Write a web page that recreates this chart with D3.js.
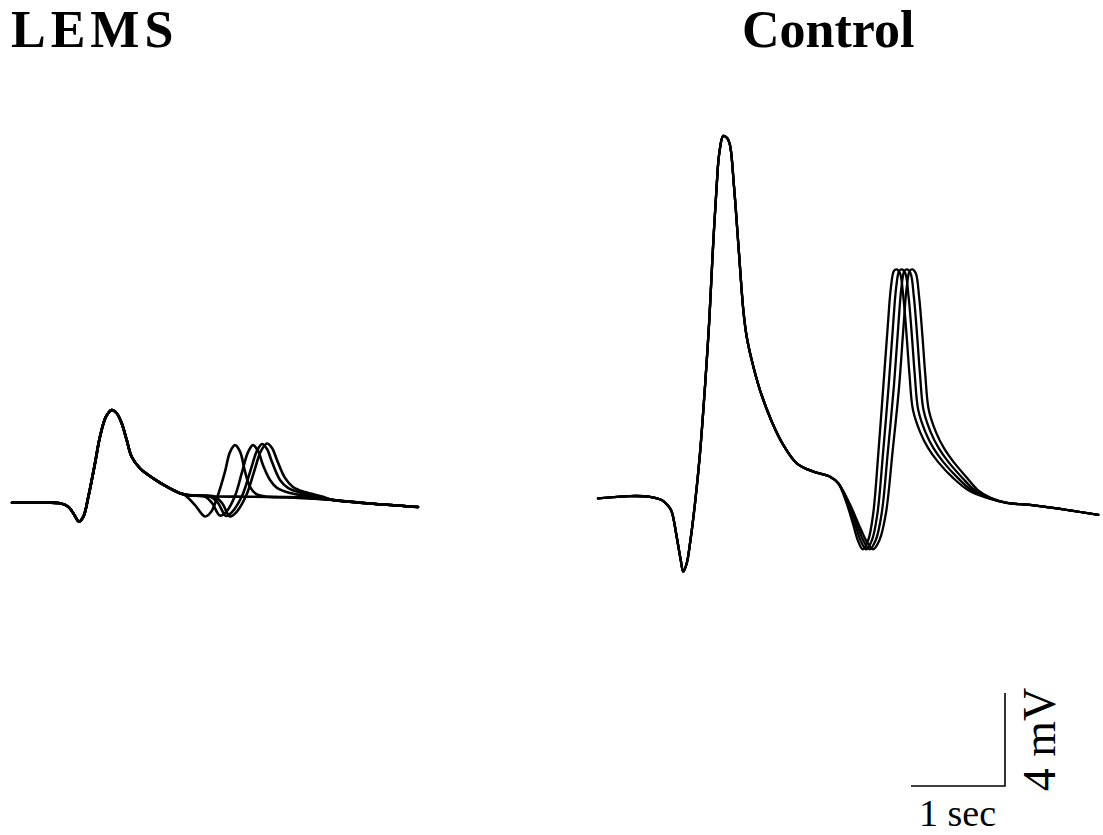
<!DOCTYPE html>
<html>
<head>
<meta charset="utf-8">
<script src="https://cdn.jsdelivr.net/npm/d3@7"></script>
<style>
  html, body { margin: 0; padding: 0; background: #fff; }
  svg { display: block; }
</style>
</head>
<body>
<svg id="chart" width="1103" height="835"></svg>
<script>
// ---- DATA (time in ms, potential in mV) ----
const panelTitles = ["LEMS", "Control"];
const scaleBarTime = 1000;   // ms  -> "1 sec"
const scaleBarVolt = 4;      // mV  -> "4 mV"
const scaleLabels = ["1 sec", "4 mV"];

// LEMS: shared first response
const lemsCommon = [[0,0.01],[298,0.01],[511,-0.01],[599,-0.16],[652,-0.44],[713,-0.80],[759,-0.59],
  [812,0.27],[883,1.71],[936,2.85],[1000,3.71],[1061,4.0],[1114,3.86],[1167,3.43],[1220,2.71],
  [1273,1.99],[1362,1.49],[1503,1.06],[1646,0.70],[1787,0.42]];
const lemsTail = [[3415,0.13],[3773,-0.01],[4319,-0.17]];
const lemsFlat = [[2000,0.30],[2532,0.27],[3064,0.24]];
const lemsSweep1 = [[1840,0.34],[1947,-0.09],[2053,-0.58],[2117,-0.39],[2191,0.34],[2266,1.35],
  [2319,2.19],[2372,2.49],[2426,2.21],[2479,1.35],[2532,0.69],[2596,0.39],[2691,0.28],[2957,0.24]];
const lemsSweep2 = [[1894,0.32],[2053,0.28],[2128,0.0],[2213,-0.54],[2277,-0.39],[2372,0.30],
  [2447,1.33],[2511,2.19],[2564,2.49],[2617,2.24],[2670,1.63],[2745,0.99],[2819,0.65],[2957,0.43],[3170,0.28]];
const lemsSweep3 = [[1894,0.32],[2106,0.28],[2191,0.0],[2277,-0.56],[2340,-0.39],[2447,0.30],
  [2532,1.33],[2606,2.24],[2660,2.54],[2713,2.32],[2766,1.76],[2851,0.99],[2936,0.65],[3064,0.45],[3255,0.28]];
const lemsSweep4 = [[1894,0.32],[2149,0.28],[2234,0.0],[2319,-0.58],[2383,-0.41],[2489,0.30],
  [2574,1.33],[2649,2.24],[2713,2.56],[2766,2.37],[2819,1.85],[2904,1.08],[2989,0.69],[3117,0.47],[3298,0.28]];

// Control: shared first response
const controlCommon = [[0,-0.06],[340,0.04],[553,0.01],[678,-0.13],[748,-0.39],[784,-0.63],[837,-1.71],
  [880,-2.71],[907,-3.21],[944,-2.85],[979,-1.99],[1032,-0.27],[1085,1.88],[1138,4.74],[1184,7.61],
  [1220,10.48],[1262,13.35],[1290,14.78],[1333,15.53],[1376,15.43],[1404,15.14],[1447,13.35],
  [1500,10.48],[1546,8.04],[1582,6.89],[1635,5.89],[1723,4.60],[1848,3.25],[1971,2.24],[2114,1.45],
  [2290,1.09],[2468,0.87],[2556,0.59]];
const controlTail = [[4348,-0.25],[4596,-0.34],[4880,-0.49],[5322,-0.77]];
const controlSweep1 = [[2645,-0.27],[2716,-1.20],[2769,-1.92],[2816,-2.25],[2875,-1.85],[2928,-0.70],
  [2982,1.88],[3035,4.74],[3082,7.32],[3117,9.05],[3149,9.73],[3178,9.79],[3213,9.62],[3248,8.62],
  [3284,6.89],[3314,5.25],[3351,3.74],[3426,2.80],[3511,2.11],[3617,1.51],[3777,0.82],[3936,0.30],[4138,-0.04]];
const controlSweep2 = [[2655,-0.27],[2736,-1.20],[2799,-1.92],[2853,-2.25],[2915,-1.85],[2973,-0.70],
  [3032,1.88],[3091,4.74],[3138,7.32],[3173,9.05],[3205,9.73],[3234,9.79],[3269,9.62],[3304,8.62],
  [3340,6.89],[3370,5.25],[3407,3.74],[3482,2.80],[3567,2.11],[3672,1.51],[3827,0.82],[3971,0.30],[4153,-0.04]];
const controlSweep3 = [[2665,-0.27],[2756,-1.20],[2829,-1.92],[2890,-2.25],[2955,-1.85],[3018,-0.70],
  [3082,1.88],[3147,4.74],[3194,7.32],[3229,9.05],[3261,9.73],[3290,9.79],[3325,9.62],[3360,8.62],
  [3396,6.89],[3426,5.25],[3463,3.74],[3538,2.80],[3623,2.11],[3727,1.51],[3877,0.82],[4006,0.30],[4168,-0.04]];
const controlSweep4 = [[2675,-0.27],[2776,-1.20],[2859,-1.92],[2927,-2.25],[2995,-1.85],[3063,-0.70],
  [3132,1.88],[3203,4.74],[3250,7.32],[3285,9.05],[3317,9.73],[3346,9.79],[3381,9.62],[3416,8.62],
  [3452,6.89],[3482,5.25],[3519,3.74],[3594,2.80],[3679,2.11],[3782,1.51],[3927,0.82],[4041,0.30],[4183,-0.04]];

// ---- DRAWING ----
const svg = d3.select("#chart");
const x = d3.scaleLinear().domain([0, 1000]).range([0, 94]);
const y = d3.scaleLinear().domain([0, 4]).range([0, -93]);
const line = d3.line().x(d => x(d[0])).y(d => y(d[1])).curve(d3.curveCatmullRom.alpha(0.5));

const lemsTraces = [lemsFlat, lemsSweep1, lemsSweep2, lemsSweep3, lemsSweep4]
  .map(s => lemsCommon.concat(s, lemsTail));
const controlTraces = [controlSweep1, controlSweep2, controlSweep3, controlSweep4]
  .map(s => controlCommon.concat(s, controlTail));

function drawPanel(traces, ox, oy, sw) {
  const g = svg.append("g").attr("transform", `translate(${ox},${oy})`);
  g.selectAll("path").data(traces).join("path")
    .attr("d", line)
    .attr("fill", "none")
    .attr("stroke", "#000")
    .attr("stroke-width", sw)
    .attr("stroke-linejoin", "round")
    .attr("stroke-linecap", "round");
}
drawPanel(lemsTraces, 12, 503, 2.6);
drawPanel(controlTraces, 598, 497, 2.3);

// titles
const serif = "'Liberation Serif', 'Times New Roman', serif";
svg.append("text").attr("x", 11).attr("y", 47).text(panelTitles[0])
  .attr("font-family", serif)
  .attr("font-weight", "bold").attr("font-size", 52).attr("letter-spacing", 5);
svg.append("text").attr("x", 742).attr("y", 47).text(panelTitles[1])
  .attr("font-family", serif)
  .attr("font-weight", "bold").attr("font-size", 52);

// scale bar
const sb = svg.append("g").attr("transform", "translate(911,786)");
sb.append("path")
  .attr("d", `M${x(0)},${y(0)}H${x(scaleBarTime)}V${y(scaleBarVolt)}`)
  .attr("fill", "none").attr("stroke", "#000").attr("stroke-width", 1.6);
svg.append("text").attr("x", 919).attr("y", 826).text(scaleLabels[0])
  .attr("font-family", serif).attr("font-size", 38);
svg.append("text").attr("transform", "translate(1055,739.5) rotate(-90)")
  .attr("text-anchor", "middle").text(scaleLabels[1])
  .attr("font-family", serif).attr("font-size", 46);
</script>
</body>
</html>
